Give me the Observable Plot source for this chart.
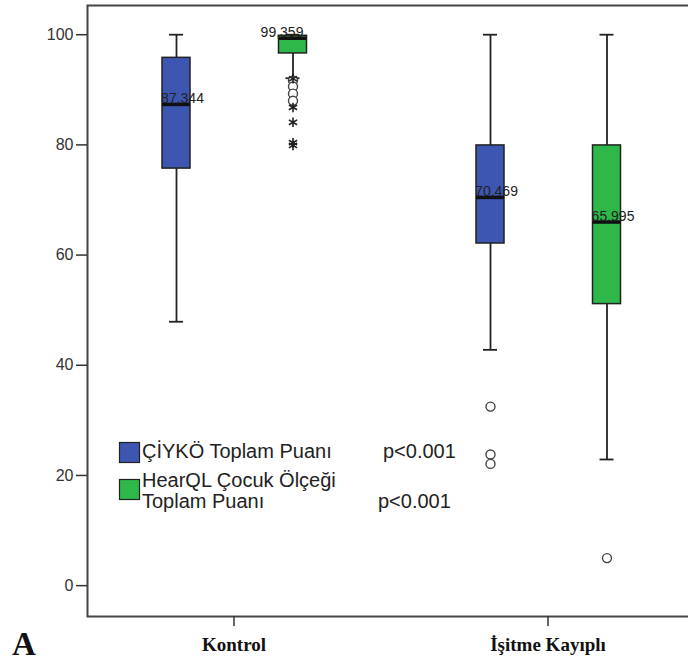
<!DOCTYPE html>
<html>
<head>
<meta charset="utf-8">
<script src="https://cdn.jsdelivr.net/npm/d3@7"></script>
<script src="https://cdn.jsdelivr.net/npm/@observablehq/plot@0.6"></script>
<style>
  body { margin: 0; background: #fff; }
  #wrap { position: relative; width: 688px; height: 662px; overflow: hidden; }
  #wrap > svg.overlay { position: absolute; left: 0; top: 0; pointer-events: none; }
</style>
</head>
<body>
<div id="wrap"></div>
<script>
// ---- data ----
const groups = ["Kontrol", "İşitme Kayıplı"];
const series = ["ÇİYKÖ Toplam Puanı", "HearQL Çocuk Ölçeği Toplam Puanı"];
const legendLines = [["ÇİYKÖ Toplam Puanı"], ["HearQL Çocuk Ölçeği", "Toplam Puanı"]];
const pValues = ["p<0.001", "p<0.001"];
const colors = ["#3d56b2", "#2fb84a"];
const yTicks = [0, 20, 40, 60, 80, 100];
const panelLetter = "A";

// one entry per box
const boxGroup   = ["Kontrol", "Kontrol", "İşitme Kayıplı", "İşitme Kayıplı"];
const boxSeries  = [0, 1, 0, 1];
const whiskerLow = [47.9, 92.1, 42.8, 22.9];
const q1         = [75.7, 96.6, 62.1, 51.1];
const median     = [87.344, 99.359, 70.469, 65.995];
const q3         = [95.8, 99.8, 79.9, 79.9];
const whiskerHigh= [100, 100, 100, 100];

// outliers
const outGroup  = ["Kontrol","Kontrol","Kontrol","Kontrol","Kontrol","Kontrol","Kontrol","Kontrol","Kontrol",
                   "İşitme Kayıplı","İşitme Kayıplı","İşitme Kayıplı","İşitme Kayıplı"];
const outSeries = [1,1,1,1,1,1,1,1,1, 0,0,0,1];
const outValue  = [91.7,90.6,89.3,88.0, 92.0,86.8,84.1,80.4,79.9, 32.5,23.8,22.1,5.0];
const outKind   = ["o","o","o","o","*","*","*","*","*", "o","o","o","o"];

// ---- layout constants ----
const W = 688, H = 662;
const B = 252;                 // band width of x scale
const off = [-57.5, 59];       // box centre offset from group centre
const boxW = 29, capW = 15;

const boxes = boxGroup.map((g, i) => ({
  group: g, s: boxSeries[i], low: whiskerLow[i], q1: q1[i], median: median[i], q3: q3[i], high: whiskerHigh[i]
}));
const outliers = outGroup.map((g, i) => ({group: g, s: outSeries[i], value: outValue[i], kind: outKind[i]}));
const fmt = v => v.toFixed(3).replace(".", ",");

const marks = [Plot.frame({stroke: "#444", strokeWidth: 2})];
series.forEach((name, si) => {
  const rows = boxes.filter(d => d.s === si);
  const o = off[si];
  const boxInset = {insetLeft: B / 2 + o - boxW / 2, insetRight: B / 2 - o - boxW / 2};
  const capInset = {insetLeft: B / 2 + o - capW / 2, insetRight: B / 2 - o - capW / 2};
  marks.push(
    Plot.ruleX(rows, {x: "group", y1: "low", y2: "q1", dx: o, stroke: "#222", strokeWidth: 1.8}),
    Plot.ruleX(rows, {x: "group", y1: "q3", y2: "high", dx: o, stroke: "#222", strokeWidth: 1.8}),
    Plot.tickY(rows, {x: "group", y: "low", ...capInset, stroke: "#222", strokeWidth: 1.8}),
    Plot.tickY(rows, {x: "group", y: "high", ...capInset, stroke: "#222", strokeWidth: 1.8}),
    Plot.barY(rows, {x: "group", y1: "q1", y2: "q3", ...boxInset, fill: colors[si], stroke: "#222", strokeWidth: 1.5}),
    Plot.tickY(rows, {x: "group", y: "median", ...boxInset, stroke: "#111", strokeWidth: 3.5})
  );
  const outs = outliers.filter(d => d.s === si);
  marks.push(
    Plot.dot(outs.filter(d => d.kind === "o"), {x: "group", y: "value", dx: o, r: 4.5, fill: "white", stroke: "#444", strokeWidth: 1.4}),
    Plot.dot(outs.filter(d => d.kind === "*"), {x: "group", y: "value", dx: o, r: 4.5, symbol: "asterisk", stroke: "#222", strokeWidth: 1.6})
  );
});
// median labels
const lab = {y: "median", x: "group", text: d => fmt(d.median), lineAnchor: "bottom", dy: -1, fontSize: 14, fill: "#222"};
marks.push(
  Plot.text(boxes.filter(d => d.s === 0), {...lab, dx: off[0] + 6}),
  Plot.text(boxes.filter(d => d.s === 1 && d.group === groups[1]), {...lab, dx: off[1] + 6}),
  Plot.text(boxes.filter(d => d.s === 1 && d.group === groups[0]), {...lab, dx: off[1] - 11})
);
marks.push(
  Plot.axisY({ticks: yTicks, tickSize: 11, tickPadding: 3, fontSize: 16, label: null, stroke: "#333", strokeWidth: 1.5}),
  Plot.axisX({tickSize: 10, tickPadding: 11, fontSize: 19, fontWeight: "bold", fontFamily: "Liberation Serif", label: null, stroke: "#333", strokeWidth: 1.5, fill: "#111"})
);

const chart = Plot.plot({
  width: W, height: H,
  marginLeft: 87, marginRight: -6, marginTop: 5, marginBottom: 46,
  style: {fontFamily: "Liberation Sans, Arial, sans-serif", color: "#333", background: "#fff"},
  x: {domain: groups, paddingInner: 0.2, paddingOuter: 0.0635},
  y: {domain: [-5.6, 105.3]},
  marks
});
const wrap = document.getElementById("wrap");
wrap.appendChild(chart);

// legend overlay (inside the plot area, as in the reference)
const ov = d3.select(wrap).append("svg").attr("class", "overlay").attr("width", W).attr("height", H)
  .style("font-family", "Liberation Sans, Arial, sans-serif");
const legTop = [442, 479];
const lineBase = [[458], [487, 508]];
const pBase = [458, 508];
const pX = [383, 378];
series.forEach((name, i) => {
  ov.append("rect").attr("x", 119.5).attr("y", legTop[i] + 0.5).attr("width", 20).attr("height", 20)
    .attr("fill", colors[i]).attr("stroke", "#222").attr("stroke-width", 1.2);
  legendLines[i].forEach((t, j) => {
    ov.append("text").attr("x", 142).attr("y", lineBase[i][j]).attr("font-size", 20).attr("fill", "#222").text(t);
  });
  ov.append("text").attr("x", pX[i]).attr("y", pBase[i]).attr("font-size", 20).attr("fill", "#222").text(pValues[i]);
});
ov.append("text").attr("x", 12).attr("y", 655).attr("font-size", 33).attr("font-weight", "bold")
  .attr("font-family", "Liberation Serif, Times New Roman, serif").attr("fill", "#111").text(panelLetter);
</script>
</body>
</html>
